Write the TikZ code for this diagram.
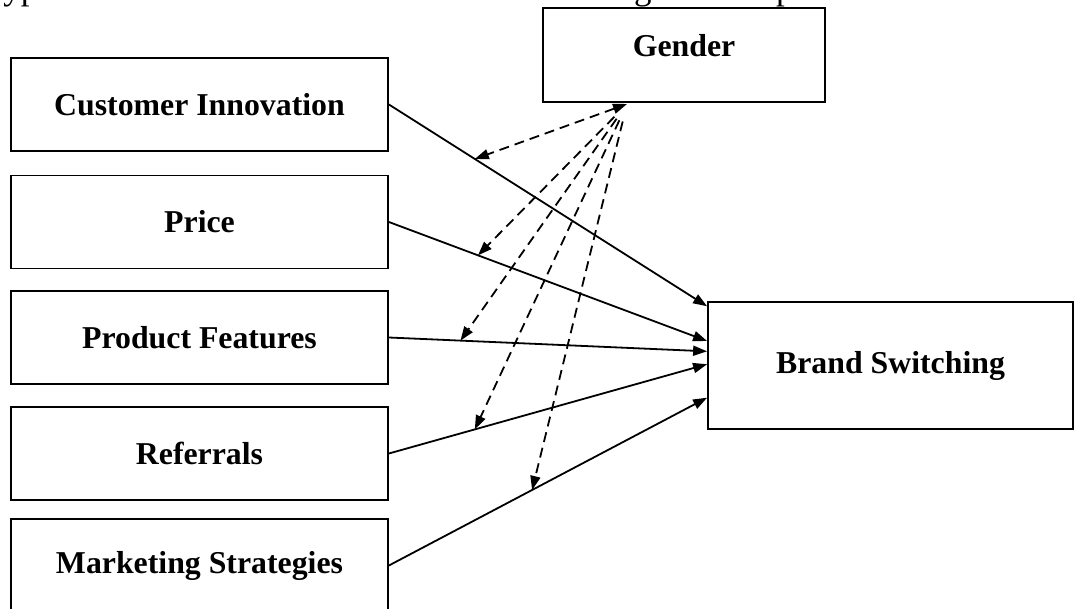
\documentclass[tikz,border=0pt]{standalone}
\usepackage{fontspec}
\setmainfont{Liberation Serif}
\usetikzlibrary{arrows.meta,calc}

\begin{document}
\begin{tikzpicture}[x=0.5pt,y=-0.5pt,
  box/.style={draw,line width=0.9pt,minimum width=188.5pt,minimum height=46.5pt,
    font=\fontsize{15.9}{19}\selectfont\bfseries},
  link/.style={line width=0.9pt,-{Triangle[length=7pt,width=5pt]}},
  mod/.style={line width=0.9pt,dash pattern=on 5pt off 3pt,-{Triangle[length=7pt,width=5pt]}}]
  \useasboundingbox (0,0) rectangle (1075,609);
  \clip (0,0) rectangle (1075,609);
  % line of text cut at the top
  \node[anchor=base west,inner sep=0pt,font=\fontsize{17.5}{20}\selectfont] (hyp) at (3,0)
    {ypotheses: Gender moderates brand switching of smartphones.};
  % boxes
  \node[box] (ci) at (199.5,104.5) {Customer Innovation};
  \node[box] (pr) at (199.5,222) {Price};
  \node[box] (pf) at (199.5,337.5) {Product Features};
  \node[box] (rf) at (199.5,453.5) {Referrals};
  \node[box] (ms) at (199.5,565.5) {Marketing Strategies};
  \node[box,minimum width=141pt,minimum height=47pt,text depth=10pt] (gen) at (684,55) {Gender};
  \node[box,minimum width=182.5pt,minimum height=63.5pt] (bs) at (890.5,365.5) {Brand Switching};
  % direct effects
  \draw[link] (ci.east) -- coordinate[pos=.27] (m1) ($(bs.north west)!.04!(bs.south west)$);
  \draw[link] (pr.east) -- coordinate[pos=.28] (m2) ($(bs.north west)!.31!(bs.south west)$);
  \draw[link] (pf.east) -- coordinate[pos=.225] (m3) ($(bs.north west)!.39!(bs.south west)$);
  \draw[link] (rf.east) -- coordinate[pos=.27] (m4) ($(bs.north west)!.49!(bs.south west)$);
  \draw[link] (ms.east) -- coordinate[pos=.45] (m5) ($(bs.north west)!.75!(bs.south west)$);
  % moderation by gender
  \coordinate (g) at (627,104);
  \draw[mod,{Triangle[length=7pt,width=5pt]}-{Triangle[length=7pt,width=5pt]}] (g) -- (m1);
  \foreach \m in {m2,m3,m4,m5}
    \draw[mod,shorten <=9pt] (g) -- (\m);
\end{tikzpicture}
\end{document}
